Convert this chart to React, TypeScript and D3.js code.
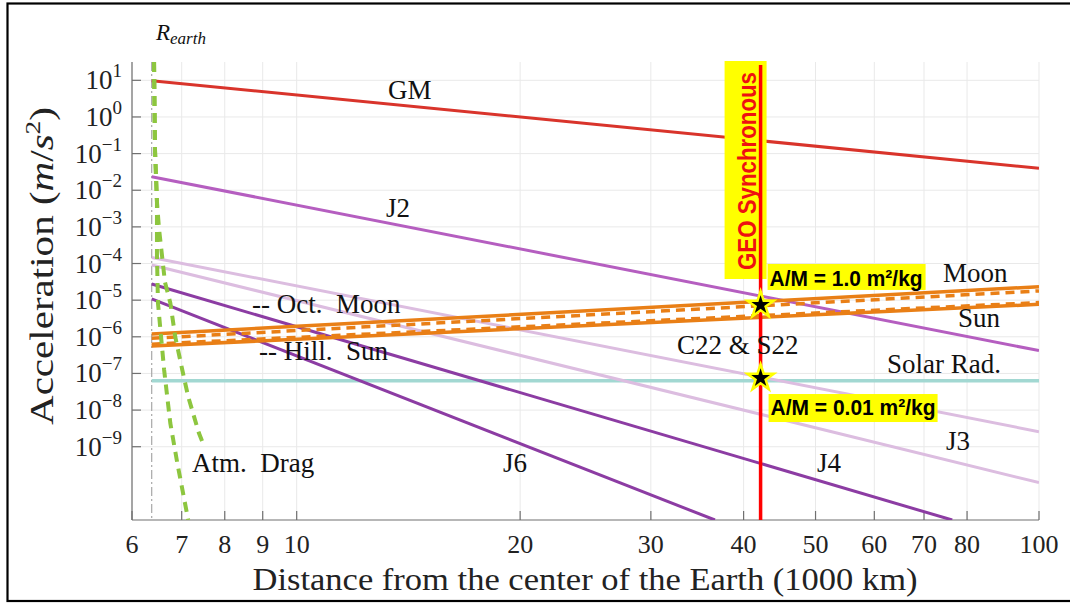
import React from "react";
import * as d3 from "d3";

const W = 1070;
const H = 604;
const plot = { left: 132, right: 1039, top: 62, bottom: 520 };

// axis ticks
const xTicks = [6, 7, 8, 9, 10, 20, 30, 40, 50, 60, 70, 80, 100];
const yTickExps = [-9, -8, -7, -6, -5, -4, -3, -2, -1, 0, 1];

const rEarth = 6.378;
const rGeo = 42.164;

// [distance (1000 km), acceleration (m/s^2)]
const gmLine = [[6.378, 9.8], [100, 0.0399]];
const j2Line = [[6.378, 0.0234], [100, 4.2e-7]];
const c22Line = [[6.378, 1.46e-4], [100, 2.57e-9]];
const j3Line = [[6.378, 9.1e-5], [100, 1.05e-10]];
const j4Line = [[6.378, 2.76e-5], [76.4, 1e-11]];
const j6Line = [[6.378, 1.08e-5], [36.6, 1e-11]];
const moonLine = [[6.378, 1.19e-6], [100, 2.33e-5]];
const octMoonLine = [[6.378, 9.1e-7], [100, 1.79e-5]];
const sunLine = [[6.378, 5.6e-7], [100, 7.7e-6]];
const hillSunLine = [[6.378, 6.4e-7], [100, 8.75e-6]];
const solarRadLine = [[6.378, 6.3e-8], [100, 6.3e-8]];
const dragLow = [
  [6.425, 31.6], [6.444, 0.125], [6.483, 4.8e-3], [6.483, 1.7e-4], [6.503, 8.4e-6],
  [6.629, 1.24e-7], [6.757, 4.4e-9], [6.905, 3.6e-10], [7.143, 1e-11],
];
const dragHigh = [
  [6.425, 31.6], [6.444, 0.125], [6.483, 4.8e-3], [6.523, 9.3e-4], [6.584, 1.7e-4],
  [6.646, 3.1e-5], [6.757, 8.4e-6], [6.862, 9.9e-7], [7.013, 1.24e-7], [7.143, 2.3e-8],
  [7.382, 2.4e-9], [7.475, 1.26e-9],
];
const geoLine = [[42.164, 26], [42.164, 1e-11]];
const starAccel = [7.4e-6, 7.5e-8];
const amLabels = ["A/M = 1.0 m²/kg", "A/M = 0.01 m²/kg"];

const labels = [
  { t: "GM", x: 388, y: 99 },
  { t: "J2", x: 386, y: 217 },
  { t: "-- Oct.  Moon", x: 252, y: 313 },
  { t: "-- Hill.  Sun", x: 259, y: 360 },
  { t: "Moon", x: 943, y: 282 },
  { t: "Sun", x: 958, y: 327 },
  { t: "C22 & S22", x: 677, y: 354 },
  { t: "Solar Rad.", x: 887, y: 373 },
  { t: "J3", x: 946, y: 450 },
  { t: "J4", x: 817, y: 472 },
  { t: "J6", x: 503, y: 472 },
  { t: "Atm.  Drag", x: 192, y: 472 },
];

const serif = "'Liberation Serif', 'Times New Roman', serif";
const sans = "'Liberation Sans', Arial, sans-serif";

export default function App() {
  const x = d3.scaleLog().domain([6, 100]).range([plot.left, plot.right]);
  const y = d3.scaleLog().domain([1e-11, Math.pow(10, 1.5)]).range([plot.bottom, plot.top]);
  const line = d3.line<number[]>().x((d) => x(d[0])).y((d) => y(d[1]));

  const series = [
    { d: solarRadLine, c: "#a2d8d2", w: 3.5 },
    { d: c22Line, c: "#dcbde0", w: 3 },
    { d: j3Line, c: "#dcbde0", w: 3 },
    { d: j4Line, c: "#8c3ca3", w: 3 },
    { d: j6Line, c: "#8c3ca3", w: 3 },
    { d: j2Line, c: "#b55ec0", w: 3 },
    { d: gmLine, c: "#d9342b", w: 3 },
    { d: sunLine, c: "#e97f16", w: 3.5 },
    { d: hillSunLine, c: "#e97f16", w: 3, dash: "9,6" },
    { d: moonLine, c: "#e97f16", w: 3.5 },
    { d: octMoonLine, c: "#e97f16", w: 3.5, dash: "9,6" },
    { d: dragLow, c: "#8dc63f", w: 4, dash: "10,7" },
    { d: dragHigh, c: "#8dc63f", w: 4, dash: "10,7" },
  ];

  const star = d3.symbol().type(d3.symbolStar).size(215)();
  const gx = x(rGeo);

  return (
    <div style={{ position: "absolute", left: 0, top: 0 }}>
      <svg width={W} height={H} style={{ display: "block", background: "#fff" }}>
        <defs>
          <clipPath id="plotClip">
            <rect x={plot.left} y={plot.top} width={plot.right - plot.left} height={plot.bottom - plot.top} />
          </clipPath>
        </defs>
        <rect x={7.5} y={3.5} width={W + 10} height={597.5} fill="none" stroke="#000" strokeWidth={2.2} />

        {/* grid */}
        {xTicks.map((t) => (
          <line key={"gx" + t} x1={x(t)} x2={x(t)} y1={plot.top} y2={plot.bottom} stroke="#e9e9e9" strokeWidth={1} />
        ))}
        {yTickExps.map((e) => (
          <line key={"gy" + e} x1={plot.left} x2={plot.right} y1={y(Math.pow(10, e))} y2={y(Math.pow(10, e))} stroke="#e9e9e9" strokeWidth={1} />
        ))}

        {/* axes */}
        <line x1={plot.left} x2={plot.left} y1={plot.top} y2={plot.bottom} stroke="#707070" strokeWidth={1.2} />
        <line x1={plot.left} x2={plot.right} y1={plot.bottom} y2={plot.bottom} stroke="#707070" strokeWidth={1.2} />
        {xTicks.map((t) => (
          <line key={"tx" + t} x1={x(t)} x2={x(t)} y1={plot.bottom} y2={plot.bottom - 9} stroke="#707070" strokeWidth={1.2} />
        ))}
        {yTickExps.map((e) => (
          <line key={"ty" + e} x1={plot.left} x2={plot.left + 9} y1={y(Math.pow(10, e))} y2={y(Math.pow(10, e))} stroke="#707070" strokeWidth={1.2} />
        ))}

        {/* R_earth */}
        <line x1={x(rEarth)} x2={x(rEarth)} y1={plot.top} y2={plot.bottom} stroke="#a8a8a8" strokeWidth={1.2} strokeDasharray="9,3,2,3" />

        <g clipPath="url(#plotClip)">
          {series.map((s, i) => (
            <path key={i} d={line(s.d) || ""} fill="none" stroke={s.c} strokeWidth={s.w} strokeDasharray={s.dash} />
          ))}
        </g>

        {/* GEO */}
        <rect x={gx - 36} y={61} width={42} height={218} fill="#ffff00" />
        <text
          transform={`translate(${gx - 5},270) rotate(-90)`}
          fontFamily={sans}
          fontWeight="bold"
          fontSize={26}
          fill="#ee1111"
          textLength={198}
          lengthAdjust="spacingAndGlyphs"
        >
          GEO Synchronous
        </text>
        <path d={line(geoLine) || ""} stroke="#ff0000" strokeWidth={3.5} fill="none" />

        {starAccel.map((a, i) => (
          <path key={"s" + i} d={star || ""} transform={`translate(${gx},${y(a)})`} fill="#000" stroke="#ffff00" strokeWidth={2.5} strokeLinejoin="miter" />
        ))}

        {/* A/M boxes */}
        <rect x={gx + 7} y={y(starAccel[0]) - 41} width={158} height={26} fill="#ffff00" />
        <text x={gx + 9} y={y(starAccel[0]) - 19} fontFamily={sans} fontWeight="bold" fontSize={22} textLength={153} lengthAdjust="spacingAndGlyphs">
          {amLabels[0]}
        </text>
        <rect x={gx + 8} y={y(starAccel[1]) + 16} width={169} height={28} fill="#ffff00" />
        <text x={gx + 10} y={y(starAccel[1]) + 37} fontFamily={sans} fontWeight="bold" fontSize={22} textLength={165} lengthAdjust="spacingAndGlyphs">
          {amLabels[1]}
        </text>

        {/* curve labels */}
        {labels.map((l) => (
          <text key={l.t} x={l.x} y={l.y} fontFamily={serif} fontSize={27} fill="#111" xmlSpace="preserve" style={{ whiteSpace: "pre" }}>
            {l.t}
          </text>
        ))}
        <text x={156} y={40} fontFamily={serif} fontStyle="italic" fontSize={23} fill="#111">
          R<tspan fontSize={17} dy={4}>earth</tspan>
        </text>

        {/* tick labels */}
        {xTicks.map((t) => (
          <text key={"lx" + t} x={x(t)} y={553} textAnchor="middle" fontFamily={serif} fontSize={26} fill="#222">
            {t}
          </text>
        ))}
        {yTickExps.map((e) => (
          <text key={"ly" + e} x={122} y={y(Math.pow(10, e)) + 9} textAnchor="end" fontFamily={serif} fontSize={27} fill="#222">
            10<tspan fontSize={19} dy={-12}>{e < 0 ? "\u2212" + -e : String(e)}</tspan>
          </text>
        ))}

        {/* axis titles */}
        <text x={585} y={590} textAnchor="middle" fontFamily={serif} fontSize={31} fill="#222" textLength={665} lengthAdjust="spacingAndGlyphs">
          Distance from the center of the Earth (1000 km)
        </text>
        <text transform="translate(53,266) rotate(-90)" textAnchor="middle" fontFamily={serif} fontSize={33} fill="#222" textLength={318} lengthAdjust="spacingAndGlyphs">
          Acceleration (<tspan fontStyle="italic">m</tspan>/<tspan fontStyle="italic">s</tspan>
          <tspan fontSize={22} dy={-13}>2</tspan>
          <tspan dy={13}>)</tspan>
        </text>
      </svg>
    </div>
  );
}
